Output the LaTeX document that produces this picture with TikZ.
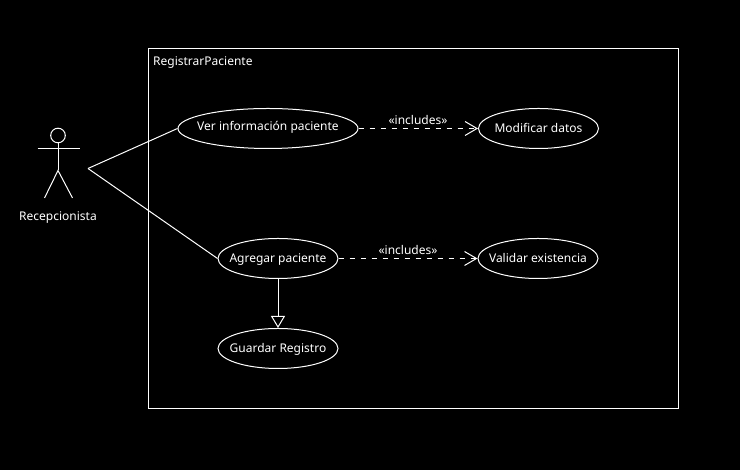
\documentclass[tikz,border=0pt]{standalone}
\usepackage{fontspec}
\setmainfont{Noto Sans}
\usetikzlibrary{arrows.meta,shapes.geometric}
\newcommand{\uclabel}[2][0pt]{\raisebox{#1}[0pt][0pt]{\makebox[0pt]{#2}}}
\begin{document}
\begin{tikzpicture}[x=1pt,y=1pt,font=\fontsize{12}{14}\selectfont,white]

\tikzset{usecase/.style = {shape=ellipse,draw=white,line width=1pt,inner sep=0pt,minimum height=40pt,text=white}}
\tikzset{edge/.style = {white,line width=1pt}}
\tikzset{include/.style = {edge,dash pattern=on 5pt off 6pt,-{Straight Barb[length=12pt,width=14pt,line width=1pt]}}}
\tikzset{extend/.style = {edge,-{Triangle[open,length=12pt,width=14pt,line width=1pt,fill=black]}}}
\tikzset{tag/.style = {inner sep=0pt,text=white}}

\fill[black] (0,0) rectangle (740,470);
\useasboundingbox (0,0) rectangle (740,470);

%system
\node[draw=white,line width=1pt,minimum width=530pt,minimum height=360pt,inner sep=0pt] (sys) at (413.5,241.5) {};
\node[tag, anchor=west] (sysname) at (153,407.5) {RegistrarPaciente};

%actor
\node[circle,draw=white,line width=1pt,minimum size=14.6pt,inner sep=0pt] (head) at (58,334.5) {};
\coordinate (hip) at (58,299.5);
\coordinate (armL) at (37.5,321);
\coordinate (armR) at (79.5,321);
\coordinate (legL) at (44.5,272);
\coordinate (legR) at (72.5,272);
\coordinate (assoc) at (88,301.5);
\node[tag] (actor) at (58,252) {Recepcionista};

\draw[edge] (head) -- (hip);
\draw[edge] (armL) -- (armR);
\draw[edge] (legL) -- (hip) -- (legR);

%use cases
\node[usecase, minimum width=180pt] (ver) at (268,341.5) {\uclabel[-2.5pt]{Ver información paciente}};
\node[usecase, minimum width=120pt] (mod) at (538.5,341.5) {\uclabel[-4.5pt]{Modificar datos}};
\node[usecase, minimum width=120pt] (agr) at (278,211.5) {\uclabel[-4.5pt]{Agregar paciente}};
\node[usecase, minimum width=120pt] (val) at (538,211.5) {\uclabel[-4.5pt]{Validar existencia}};
\node[usecase, minimum width=120pt] (gua) at (278,121.5) {\uclabel[-4.5pt]{Guardar Registro}};

%edges
\draw[edge] (assoc) -- (ver.west);
\draw[edge] (assoc) -- (agr.west);
\draw[include] (ver) -- (mod);
\draw[include] (agr) -- (val);
\draw[extend] (agr) -- (gua);

\node[tag] (inc1) at (418,350) {«includes»};
\node[tag] (inc2) at (408,220) {«includes»};

\end{tikzpicture}
\end{document}
